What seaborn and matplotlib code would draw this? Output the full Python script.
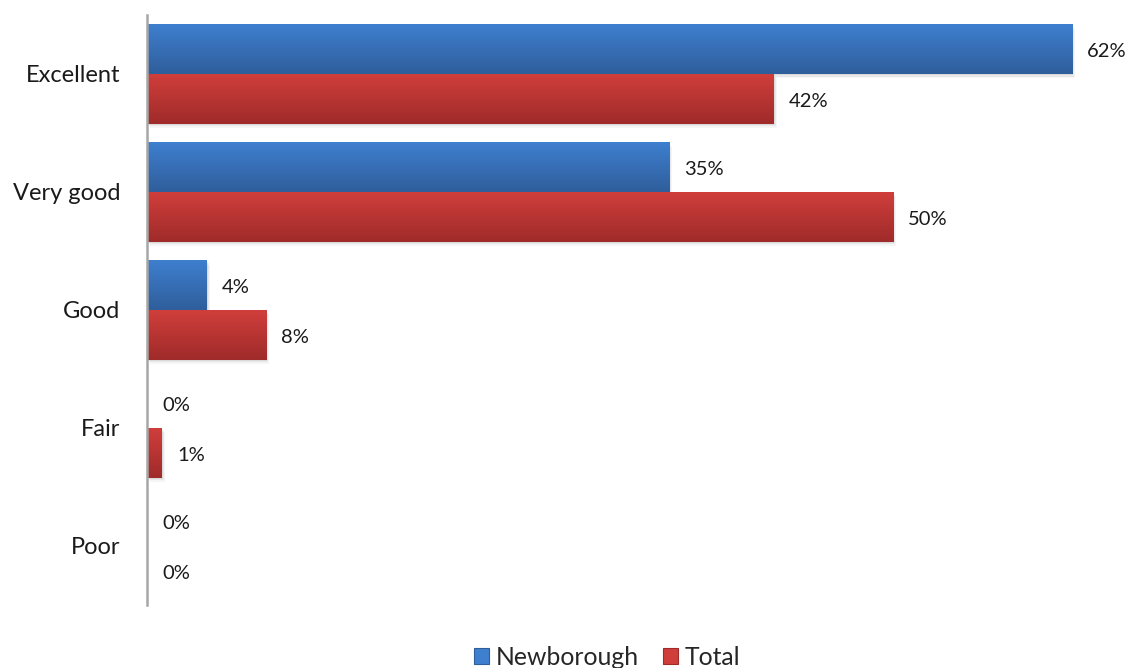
import numpy as np
import pandas as pd
import matplotlib
matplotlib.use("Agg")
import matplotlib.pyplot as plt
import matplotlib.colors as mcolors
from matplotlib.patches import Rectangle
import seaborn as sns

categories = ["Excellent", "Very good", "Good", "Fair", "Poor"]
series_names = ["Newborough", "Total"]
newborough = [62, 35, 4, 0, 0]
total = [42, 50, 8, 1, 0]

# top / bottom shades for the gradient fill of each series
palette = {"Newborough": ("#3e7fcf", "#2f5e9b"), "Total": ("#d03e3b", "#9f2b2a")}

df = pd.DataFrame({
    "category": categories * 2,
    "series": [series_names[0]] * len(categories) + [series_names[1]] * len(categories),
    "value": newborough + total,
})

sns.set_theme(style="white")
plt.rcParams["font.family"] = ["Lato", "DejaVu Sans"]

fig = plt.figure(figsize=(11.37, 6.68), dpi=100)
ax = fig.add_axes([147 / 1137, 1 - 605 / 668, (1132 - 147) / 1137, (605 - 15) / 668])

sns.barplot(data=df, y="category", x="value", hue="series", order=categories,
            hue_order=series_names, orient="h", width=0.84, ax=ax,
            palette={k: v[0] for k, v in palette.items()}, legend=False,
            linewidth=0)

ax.set_xlim(0, 66)
ax.set_ylim(len(categories) - 0.5, -0.5)

# gradient fill, soft shadow and value label for every bar
px = 66 / (1132 - 147)  # data units per pixel along x
for container, name in zip(ax.containers, series_names):
    top, bot = palette[name]
    cmap = mcolors.LinearSegmentedColormap.from_list(name, [top, bot])
    grad = np.linspace(0, 1, 64).reshape(-1, 1)
    for patch, val in zip(container.patches, container.datavalues):
        x0, y0 = patch.get_x(), patch.get_y()
        w, h = patch.get_width(), patch.get_height()
        if w > 0:
            for k, a in enumerate([0.06, 0.05, 0.04]):
                ax.add_patch(Rectangle((x0 + px * (1 + k), y0 + 0.012 * (1 + k)), w, h,
                                       facecolor="black", alpha=a, lw=0, zorder=1))
            patch.set_visible(False)
            ax.imshow(grad, cmap=cmap, aspect="auto", zorder=2,
                      extent=(x0, x0 + w, y0 + h, y0), interpolation="bicubic")
        ax.text(val + 15 * px, y0 + h / 2 + 0.02, f"{val:g}%", va="center", ha="left",
                fontsize=14.5, color="#1a1a1a", zorder=3)

ax.set_xlim(0, 66)
ax.set_ylim(len(categories) - 0.5, -0.5)
ax.set_xlabel("")
ax.set_ylabel("")
ax.set_xticks([])
ax.tick_params(axis="y", length=0, pad=19, labelsize=17, labelcolor="#1a1a1a")
for side in ["top", "right", "bottom"]:
    ax.spines[side].set_visible(False)
ax.spines["left"].set_color("#a6a6a6")
ax.spines["left"].set_linewidth(1.8)
ax.set_facecolor("white")

handles = [Rectangle((0, 0), 1, 1, facecolor=palette[n][0], edgecolor=palette[n][1], lw=0.8)
           for n in series_names]
fig.legend(handles, series_names, loc="center", bbox_to_anchor=(0.534, 0.016), ncol=2,
           frameon=False, fontsize=17.8, handlelength=0.6, handleheight=0.6,
           handletextpad=0.25, columnspacing=1.0)

fig.savefig("out.png", dpi=100, facecolor="white")
